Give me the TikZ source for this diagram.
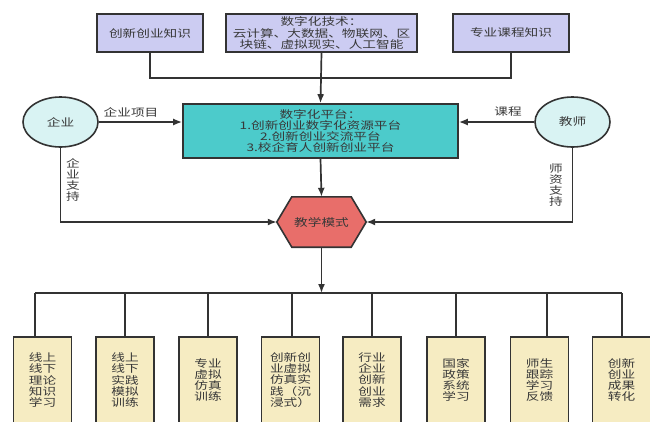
\documentclass[tikz,border=0pt]{standalone}
\usepackage{fontspec}
\setmainfont{Noto Sans CJK SC}[FakeStretch=1.3]
\usetikzlibrary{arrows.meta,backgrounds,shapes.geometric}
\definecolor{lav}{HTML}{CCCCF2}
\definecolor{teal2}{HTML}{4CCBCB}
\definecolor{ice}{HTML}{D9F3F3}
\definecolor{salmon}{HTML}{E86E6A}
\definecolor{cream}{HTML}{F6ECC2}
\definecolor{ink}{HTML}{333333}
\definecolor{txt}{HTML}{383838}
\begin{document}
\begin{tikzpicture}[x=1pt,y=-1pt,
  font=\fontsize{10.5}{11.3}\selectfont, text=txt,
  box/.style={draw=ink, line width=1.6pt, align=center, inner sep=0pt},
  topbox/.style={box, fill=lav, minimum height=38pt},
  botbox/.style={box, fill=cream, minimum width=58pt, minimum height=86pt},
  oval/.style={box, ellipse, fill=ice, minimum width=75pt, minimum height=50pt},
  conn/.style={draw=ink, line width=1.7pt},
  arr/.style={conn, -{Latex[length=9pt,width=7pt]}},
  lbl/.style={align=center, inner sep=0pt}
]
\useasboundingbox (0,0) rectangle (650,421);

% top boxes
\node[topbox, minimum width=106pt] (b1) at (150,33) {创新创业知识};
\node[topbox, minimum width=191pt] (b2) at (321.5,33) {数字化技术：\\云计算、大数据、物联网、区\\块链、虚拟现实、人工智能};
\node[topbox, minimum width=116pt] (b3) at (511,33) {专业课程知识};

% platform
\node[box, fill=teal2, minimum width=275pt, minimum height=54pt] (plat) at (320.5,131)
  {数字化平台：\\1.创新创业数字化资源平台\\2.创新创业交流平台\\3.校企育人创新创业平台};

% ellipses
\node[oval] (e1) at (60.5,122) {企业};
\node[oval] (e2) at (572.5,122) {教师};

% hexagon
\node[inner sep=0pt, minimum width=89pt, minimum height=50pt] (hx) at (321.5,222) {教学模式};
\begin{scope}[on background layer]
\filldraw[fill=salmon, draw=ink, line width=1.6pt]
  (hx.west) -- ([xshift=15pt]hx.north west) -- ([xshift=-15pt]hx.north east) --
  (hx.east) -- ([xshift=-15pt]hx.south east) -- ([xshift=15pt]hx.south west) -- cycle;
\end{scope}

% bottom boxes
\node[botbox] (c1) at (42.5,380) {线上\\线下\\理论\\知识\\学习};
\node[botbox] (c2) at (125,380) {线上\\线下\\实践\\模拟\\训练};
\node[botbox] (c3) at (208,380) {专业\\虚拟\\仿真\\训练};
\node[botbox] (c4) at (290.5,380) {创新创\\业虚拟\\仿真实\\践（沉\\浸式）};
\node[botbox] (c5) at (372,380) {行业\\企业\\创新\\创业\\需求};
\node[botbox] (c6) at (456,380) {国家\\政策\\系统\\学习};
\node[botbox] (c7) at (539.5,380) {师生\\跟踪\\学习\\反馈};
\node[botbox] (c8) at (621.5,380) {创新\\创业\\成果\\转化};

% top connectors
\coordinate (j) at (321.5,78);
\draw[conn] (b1.south) -- (b1.south |- j) -- (b3.south |- j) -- (b3.south);
\draw[arr] (b2.south) -- (plat.north);

% ellipses to platform
\draw[arr] (e1.east) -- (e1.east -| plat.west);
\draw[arr] (e2.west) -- (e2.west -| plat.east);
\node[lbl] (l1) at (131,112) {企业项目};
\node[lbl] (l2) at (508,112) {课程};

% platform to hexagon
\draw[arr] (plat.south) -- (hx.north);

% side supports
\draw[arr] (e1.south) -- (e1.south |- hx.west) -- (hx.west);
\draw[arr] (e2.south) -- (e2.south |- hx.east) -- (hx.east);
\node[lbl] (l3) at (73,180) {企\\业\\支\\持};
\node[lbl] (l4) at (556,185) {师\\资\\支\\持};

% bus
\coordinate (bus) at (321.5,293);
\draw[arr] (hx.south) -- (bus);
\coordinate (d1) at (35,293);
\coordinate (d2) at (125,293);
\coordinate (d3) at (208,293);
\coordinate (d4) at (292,293);
\coordinate (d5) at (372,293);
\coordinate (d6) at (456,293);
\coordinate (d7) at (547,293);
\coordinate (d8) at (622,293);
\draw[conn] (d1) -- (d8);
\foreach \i in {1,...,8} {
  \draw[conn] (d\i) -- (d\i |- c\i.north);
}
\end{tikzpicture}
\end{document}
